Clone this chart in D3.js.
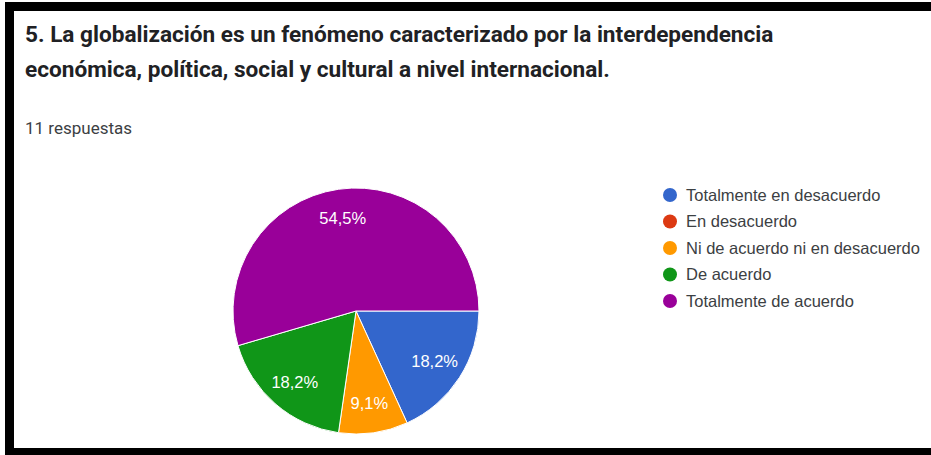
<!DOCTYPE html>
<html>
<head>
<meta charset="utf-8">
<script src="https://cdn.jsdelivr.net/npm/d3@7"></script>
<style>
  html, body { margin: 0; padding: 0; background: #fff; }
  svg { display: block; }
</style>
</head>
<body>
<svg id="chart" width="931" height="455"></svg>
<script>
const titleLines = [
  "5. La globalización es un fenómeno caracterizado por la interdependencia",
  "económica, política, social y cultural a nivel internacional."
];
const subtitle = "11 respuestas";
const categories = [
  "Totalmente en desacuerdo",
  "En desacuerdo",
  "Ni de acuerdo ni en desacuerdo",
  "De acuerdo",
  "Totalmente de acuerdo"
];
const counts = [2, 0, 1, 2, 6];
const colors = ["#3366cc", "#dc3912", "#ff9900", "#109618", "#990099"];

const svg = d3.select("#chart");
const W = 931, H = 455;

// frame
svg.append("rect").attr("x", 0).attr("y", 0).attr("width", W).attr("height", H).attr("fill", "#fff");
svg.append("rect").attr("x", 5).attr("y", 2).attr("width", W - 5).attr("height", 9).attr("fill", "#000");
svg.append("rect").attr("x", 5).attr("y", 2).attr("width", 9).attr("height", H - 2).attr("fill", "#000");
svg.append("rect").attr("x", 5).attr("y", 448).attr("width", W - 5).attr("height", 7).attr("fill", "#000");

// title
svg.append("g").selectAll("text").data(titleLines).join("text")
  .attr("x", 25)
  .attr("y", (d, i) => 42 + i * 35)
  .attr("font-family", "Roboto, Arial, sans-serif")
  .attr("font-weight", 700)
  .attr("font-size", 22.6)
  .attr("fill", "#202124")
  .text(d => d);

svg.append("text")
  .attr("x", 25).attr("y", 134)
  .attr("font-family", "Roboto, Arial, sans-serif")
  .attr("font-size", 17)
  .attr("fill", "#3c4043")
  .text(subtitle);

// pie
const cx = 356, cy = 311, R = 123;
const total = d3.sum(counts);
const data = categories.map((c, i) => ({ cat: c, value: counts[i], color: colors[i] }));
const pie = d3.pie().value(d => d.value).sort(null)
  .startAngle(Math.PI / 2).endAngle(Math.PI / 2 + 2 * Math.PI);
const arcs = pie(data);
const arc = d3.arc().innerRadius(0).outerRadius(R);
const labelArc = d3.arc().innerRadius(R * 0.76).outerRadius(R * 0.76);

const g = svg.append("g").attr("transform", `translate(${cx},${cy})`);
g.selectAll("path").data(arcs.filter(a => a.data.value > 0)).join("path")
  .attr("d", arc)
  .attr("fill", d => d.data.color)
  .attr("stroke", "#fff")
  .attr("stroke-width", 1);

const fmt = v => (Math.round(v / total * 1000) / 10).toFixed(1).replace(".", ",") + "%";
g.selectAll("text.lbl").data(arcs.filter(a => a.data.value > 0)).join("text")
  .attr("class", "lbl")
  .attr("transform", d => `translate(${labelArc.centroid(d)})`)
  .attr("text-anchor", "middle")
  .attr("dy", "0.36em")
  .attr("font-family", "Arial, 'Liberation Sans', sans-serif")
  .attr("font-size", 16.5)
  .attr("fill", "#fff")
  .text(d => fmt(d.data.value));

// legend
const ly = d3.scalePoint().domain(categories).range([195, 301]);
const lg = svg.append("g");
const items = lg.selectAll("g").data(data).join("g")
  .attr("transform", d => `translate(670,${ly(d.cat)})`);
items.append("circle").attr("r", 7).attr("fill", d => d.color);
items.append("text")
  .attr("x", 16).attr("dy", "0.35em")
  .attr("font-family", "Arial, 'Liberation Sans', sans-serif")
  .attr("font-size", 16.5)
  .attr("fill", "#3c4043")
  .text(d => d.cat);
</script>
</body>
</html>
